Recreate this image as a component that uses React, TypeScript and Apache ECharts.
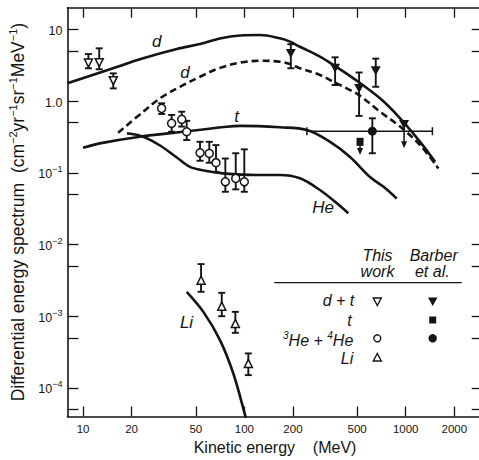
import React, { useEffect, useRef } from "react";
import * as echarts from "echarts";

const FONT = "'Liberation Sans', Arial, Helvetica, sans-serif";
const INK = "#141414";

// Axis ticks
const xTickValues = [10, 20, 50, 100, 200, 500, 1000, 2000];
const yLabelValues = [1e-4, 1e-3, 1e-2, 1e-1, 1, 10];
const yTickValues = [5e-5, 1e-4, 5e-4, 1e-3, 5e-3, 1e-2, 5e-2, 1e-1, 0.5, 1, 5, 10];

// Model curves [energy MeV, flux]
const curveD = [
  [8, 1.77], [14.7, 2.77], [23.6, 3.94], [38.1, 5.31], [53.1, 6.24], [70.6, 7.45],
  [94, 8.2], [125, 8.33], [166, 7.49], [192, 6.72], [221, 5.71], [294, 4.15],
  [356, 3.18], [474, 2.07], [693, 1.09], [923, 0.574], [1228, 0.27], [1521, 0.142],
];
const curveDDashed = [
  [16.5, 0.361], [23.6, 0.71], [30, 1.09], [39.9, 1.58], [53.1, 2.18], [70.6, 2.9],
  [94, 3.42], [125, 3.65], [166, 3.53], [192, 3.28], [221, 2.86], [294, 2.31],
  [356, 1.86], [452, 1.42], [514, 1.21], [693, 0.71], [923, 0.44], [1228, 0.243], [1593, 0.115],
];
const curveT = [
  [10, 0.223], [12.7, 0.257], [22.5, 0.318], [41.8, 0.373], [77.7, 0.438], [94, 0.45],
  [166, 0.43], [244, 0.394], [340, 0.27], [452, 0.166], [601, 0.087], [745, 0.0612], [880, 0.0436],
];
const curveHe = [
  [18.7, 0.355], [23.6, 0.318], [30, 0.24], [38.1, 0.163], [46, 0.121], [58.4, 0.106],
  [74, 0.098], [119, 0.093], [166, 0.093], [221, 0.0836], [294, 0.0574], [392, 0.0344], [441, 0.0272],
];
const curveLi = [
  [43.9, 2.19e-3], [55.7, 1.15e-3], [70.6, 4.65e-4], [85.4, 1.59e-4], [101, 4.2e-5], [105, 3e-5],
];

// Measurements [energy, value, low, high]
const thisWorkDT = [
  [10.8, 3.39, 2.86, 4.52], [12.6, 3.43, 2.77, 5.43], [15.4, 1.92, 1.5, 2.43],
];
const thisWorkHe = [
  [30.7, 0.79, 0.66, 0.93], [35.4, 0.489, 0.373, 0.64], [40.9, 0.556, 0.44, 0.71],
  [43.9, 0.373, 0.286, 0.53], [53.1, 0.19, 0.147, 0.27], [60.6, 0.186, 0.138, 0.27],
  [66.7, 0.138, 0.103, 0.243], [76.2, 0.0748, 0.0543, 0.158], [88.4, 0.0835, 0.0587, 0.187],
  [99.9, 0.0748, 0.0543, 0.212],
];
const thisWorkLi = [
  [53.9, 3.18e-3, 2.19e-3, 5.33e-3], [72.4, 1.38e-3, 1.0e-3, 2.12e-3],
  [87.9, 7.94e-4, 5.87e-4, 1.15e-3], [105.8, 2.2e-4, 1.51e-4, 3.03e-4],
];
const barberDT = [
  [194, 4.6, 2.86, 6.2], [365, 2.86, 1.67, 4.07], [514, 1.5, 0.62, 2.5], [652, 2.65, 1.58, 3.9],
];
// Upper limits [energy, value, arrow end]
const barberDTLimit = [[977, 0.47, 0.22]];
const barberTLimit = [[521, 0.27, 0.177]];
// [energy, value, low, high, energyLow, energyHigh]
const barberHe = [[621, 0.38, 0.187, 0.574, 244, 1463]];

function vErrorBars(data: number[][], cap: number) {
  return {
    type: "custom",
    silent: true,
    z: 3,
    data: data.map((d) => [d[0], d[2], d[3]]),
    encode: { x: 0, y: [1, 2] },
    renderItem: (_p: any, api: any) => {
      const top = api.coord([api.value(0), api.value(2)]);
      const bot = api.coord([api.value(0), api.value(1)]);
      const st = { stroke: INK, lineWidth: 1.9 };
      return {
        type: "group",
        children: [
          { type: "line", shape: { x1: top[0], y1: top[1], x2: bot[0], y2: bot[1] }, style: st },
          { type: "line", shape: { x1: top[0] - cap, y1: top[1], x2: top[0] + cap, y2: top[1] }, style: st },
          { type: "line", shape: { x1: bot[0] - cap, y1: bot[1], x2: bot[0] + cap, y2: bot[1] }, style: st },
        ],
      };
    },
  };
}

function limitArrows(data: number[][]) {
  return {
    type: "custom",
    silent: true,
    z: 3,
    data,
    encode: { x: 0, y: [1, 2] },
    renderItem: (_p: any, api: any) => {
      const a = api.coord([api.value(0), api.value(1)]);
      const b = api.coord([api.value(0), api.value(2)]);
      return {
        type: "group",
        children: [
          { type: "line", shape: { x1: a[0], y1: a[1], x2: b[0], y2: b[1] - 5 }, style: { stroke: INK, lineWidth: 1.5 } },
          { type: "polygon", shape: { points: [[b[0] - 3, b[1] - 7], [b[0] + 3, b[1] - 7], [b[0], b[1]]] }, style: { fill: INK } },
        ],
      };
    },
  };
}

function hErrorBars(data: number[][]) {
  return {
    type: "custom",
    silent: true,
    z: 3,
    data: data.map((d) => [d[4], d[5], d[1]]),
    encode: { x: [0, 1], y: 2 },
    renderItem: (_p: any, api: any) => {
      const l = api.coord([api.value(0), api.value(2)]);
      const r = api.coord([api.value(1), api.value(2)]);
      const st = { stroke: INK, lineWidth: 1.5 };
      return {
        type: "group",
        children: [
          { type: "line", shape: { x1: l[0], y1: l[1], x2: r[0], y2: r[1] }, style: st },
          { type: "line", shape: { x1: l[0], y1: l[1] - 4, x2: l[0], y2: l[1] + 4 }, style: st },
          { type: "line", shape: { x1: r[0], y1: r[1] - 4, x2: r[0], y2: r[1] + 4 }, style: st },
        ],
      };
    },
  };
}

function curve(data: number[][], dashed = false) {
  return {
    type: "line",
    silent: true,
    z: 2,
    data,
    smooth: 0.35,
    showSymbol: false,
    symbol: "none",
    lineStyle: { color: INK, width: 2.6, type: dashed ? [7, 4] : "solid" },
  };
}

function markers(data: number[][], symbol: string, size: any, filled: boolean, rotate = 0) {
  return {
    type: "scatter",
    silent: true,
    z: 5,
    data: data.map((d) => [d[0], d[1]]),
    symbol,
    symbolSize: size,
    symbolRotate: rotate,
    itemStyle: filled
      ? { color: INK, borderWidth: 0, opacity: 1 }
      : { color: "#ffffff", borderColor: INK, borderWidth: 1.5, opacity: 1 },
  };
}

function txt(text: string, x: number, y: number, size: number, align = "center", rich?: any) {
  return {
    type: "text",
    x,
    y,
    silent: true,
    style: {
      text,
      fontSize: size,
      fontFamily: FONT,
      fontStyle: "italic",
      fill: INK,
      align,
      textAlign: align,
      verticalAlign: "middle",
      textVerticalAlign: "middle",
      rich,
    },
  };
}

function yLabel(v: number) {
  const e = Math.round(Math.log10(v));
  if (e === 1) return "{b|10}";
  if (e === 0) return "{b|1.0}";
  return "{b|10}{s|−" + String(-e) + "}";
}

export default function App() {
  const ref = useRef<HTMLDivElement>(null);
  useEffect(() => {
    if (!ref.current) return;
    const chart = echarts.init(ref.current, undefined, { renderer: "svg" });
    const axisLine = { show: true, lineStyle: { color: INK, width: 1.6 } };
    const xBase = {
      type: "log",
      min: 8,
      max: 3000,
      axisLine,
      splitLine: { show: false },
      minorTick: { show: false },
      axisTick: { show: true, inside: true, length: 10, customValues: xTickValues, lineStyle: { color: INK, width: 1.3 } },
    };
    const yBase = {
      type: "log",
      min: 4e-5,
      max: 20,
      axisLine,
      splitLine: { show: false },
      minorTick: { show: false },
      axisTick: { show: true, inside: true, length: 11, customValues: yTickValues, lineStyle: { color: INK, width: 1.3 } },
    };
    const legendRich = {
      s: { fontSize: 10, fontFamily: FONT, fontStyle: "italic", color: INK, verticalAlign: "top", lineHeight: 10 },
      m: { fontSize: 16, fontFamily: FONT, fontStyle: "italic", color: INK, verticalAlign: "bottom", lineHeight: 18 },
    };
    chart.setOption({
      animation: false,
      backgroundColor: "#fff",
      grid: { left: 67.4, right: -3.7, top: 7.7, bottom: 43.5, containLabel: false, outerBoundsMode: "none" },
      xAxis: [
        {
          ...xBase,
          position: "bottom",
          axisLabel: {
            show: true,
            customValues: xTickValues,
            formatter: (v: number) => String(Math.round(v)),
            fontSize: 11.5,
            fontFamily: FONT,
            color: INK,
            margin: 6,
          },
          name: "Kinetic energy    (MeV)",
          nameLocation: "middle",
          nameGap: 14,
          nameTextStyle: { fontSize: 16, fontFamily: FONT, color: INK, verticalAlign: "top" },
        },
        { ...xBase, position: "top", axisLabel: { show: false } },
      ],
      yAxis: [
        {
          ...yBase,
          position: "left",
          axisLabel: {
            show: true,
            customValues: yLabelValues,
            formatter: yLabel,
            margin: 5,
            rich: {
              b: { fontSize: 12.5, fontFamily: FONT, color: INK, verticalAlign: "bottom", lineHeight: 16 },
              s: { fontSize: 9, fontFamily: FONT, color: INK, verticalAlign: "top", lineHeight: 9 },
            },
          },
          name: "{m|Differential energy spectrum  (cm}{s|−2}{m|yr}{s|−1}{m|sr}{s|−1}{m|MeV}{s|−1}{m|)}",
          nameLocation: "middle",
          nameRotate: 90,
          nameGap: 38,
          nameTextStyle: {
            fontFamily: FONT,
            color: INK,
            rich: {
              m: { fontSize: 17.5, fontFamily: FONT, color: INK, verticalAlign: "bottom", lineHeight: 20 },
              s: { fontSize: 11, fontFamily: FONT, color: INK, verticalAlign: "top", lineHeight: 11 },
            },
          },
        },
        { ...yBase, position: "right", axisLabel: { show: false } },
      ],
      series: [
        curve(curveD),
        curve(curveDDashed, true),
        curve(curveT),
        curve(curveHe),
        curve(curveLi),
        vErrorBars(thisWorkDT, 3.5),
        vErrorBars(thisWorkHe, 3.5),
        vErrorBars(thisWorkLi, 3.5),
        vErrorBars(barberDT, 3.5),
        vErrorBars(barberHe.map((d) => [d[0], d[1], d[2], d[3]]), 3.5),
        hErrorBars(barberHe),
        limitArrows(barberDTLimit),
        limitArrows(barberTLimit),
        markers(thisWorkDT, "triangle", [8, 8], false, 180),
        markers(thisWorkHe, "circle", 8, false),
        markers(thisWorkLi, "triangle", [8, 8], false),
        markers(barberDT, "triangle", [10, 9], true, 180),
        markers(barberDTLimit, "triangle", [10, 9], true, 180),
        markers(barberTLimit, "rect", [7, 8], true),
        markers(barberHe, "circle", 9, true),
      ],
      graphic: [
        txt("d", 156.7, 41.7, 17),
        txt("d", 185, 72.7, 17),
        txt("t", 236.7, 116.7, 17),
        txt("He", 323, 207, 17),
        txt("Li", 186.5, 322.5, 17),
        txt("This", 377.5, 255, 16),
        txt("work", 377.5, 271.5, 16),
        txt("Barber", 433.7, 255, 16),
        txt("et al.", 432.3, 271.5, 16),
        { type: "line", silent: true, shape: { x1: 274.3, y1: 282.7, x2: 461.7, y2: 282.7 }, style: { stroke: INK, lineWidth: 1.3 } },
        txt("d + t", 354.3, 300.7, 16, "right"),
        txt("t", 351.7, 320, 16, "right"),
        txt("{s|3}{m|He + }{s|4}{m|He}", 353.3, 339, 16, "right", legendRich),
        txt("Li", 353.3, 358.3, 16, "right"),
        { type: "polygon", silent: true, shape: { points: [[373.3, 298], [381.3, 298], [377.3, 305.5]] }, style: { fill: "#fff", stroke: INK, lineWidth: 1.4 } },
        { type: "polygon", silent: true, shape: { points: [[428, 297.5], [437.5, 297.5], [432.7, 306]] }, style: { fill: INK } },
        { type: "rect", silent: true, shape: { x: 429.2, y: 316.5, width: 7, height: 7 }, style: { fill: INK } },
        { type: "circle", silent: true, shape: { cx: 377.3, cy: 338.3, r: 3.5 }, style: { fill: "#fff", stroke: INK, lineWidth: 1.4 } },
        { type: "circle", silent: true, shape: { cx: 432.7, cy: 338.3, r: 4.2 }, style: { fill: INK } },
        { type: "polygon", silent: true, shape: { points: [[373.3, 361], [381.3, 361], [377.3, 353.5]] }, style: { fill: "#fff", stroke: INK, lineWidth: 1.4 } },
      ],
    });
    return () => chart.dispose();
  }, []);
  return (
    <div
      ref={ref}
      style={{ position: "absolute", left: 0, top: 0, width: 479, height: 460, background: "#fff" }}
    />
  );
}
